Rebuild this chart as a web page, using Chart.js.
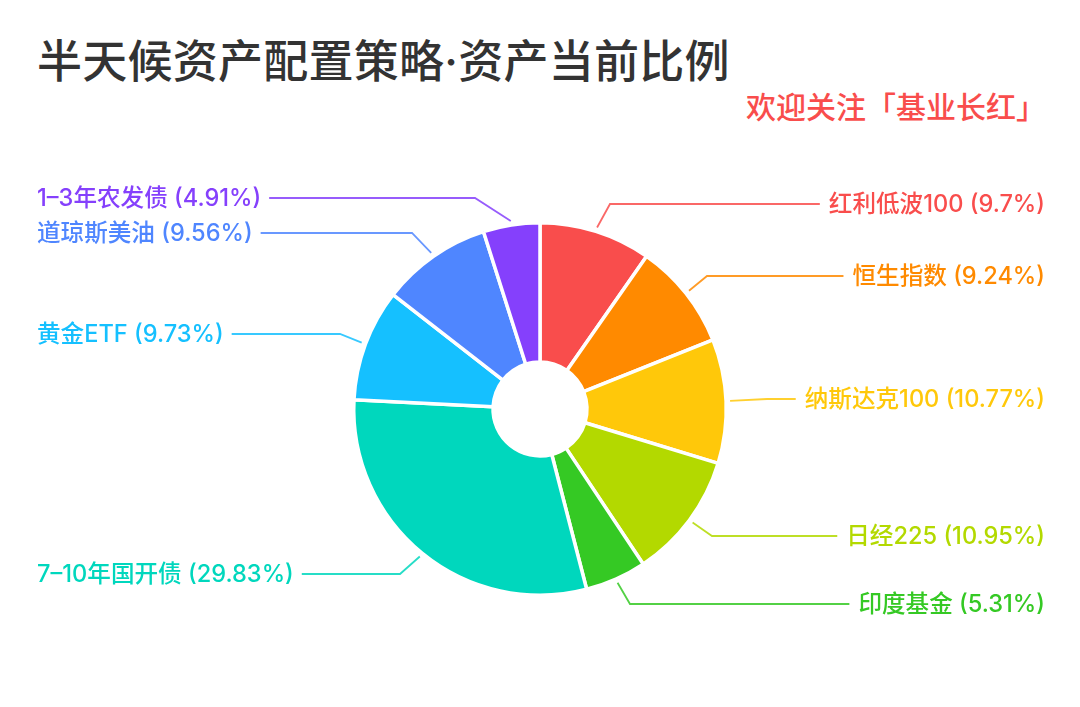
<!DOCTYPE html>
<html lang="zh-CN">
<head>
<meta charset="utf-8">
<title>半天候资产配置策略·资产当前比例</title>
<script src="https://cdn.jsdelivr.net/npm/chart.js@4"></script>
<style>
    html, body { margin: 0; background: #fff; }
    body { position: relative; width: 1080px; height: 707px; overflow: hidden; font-family: Inter, "Noto Sans CJK SC", sans-serif; }
    canvas { position: absolute; left: 0; top: 0; }
    #titulo { position: absolute; left: 37px; top: 32px; font-size: 45px; letter-spacing: 0.25px; line-height: 60px; font-weight: 500; color: #333; white-space: nowrap; }
    #subtitulo { position: absolute; right: 34px; top: 87px; font-size: 30px; line-height: 40px; font-weight: 500; color: #f94d4c; white-space: nowrap; }
</style>
</head>
<body>
<div id="titulo">半天候资产配置策略·资产当前比例</div>
<div id="subtitulo">欢迎关注「基业长红」</div>
<canvas id="graficoActivos" width="1080" height="707"></canvas>
<script>
const categories = ['红利低波100', '恒生指数', '纳斯达克100', '日经225', '印度基金', '7–10年国开债', '黄金ETF', '道琼斯美油', '1–3年农发债'];
const shares = [9.7, 9.24, 10.77, 10.95, 5.31, 29.83, 9.73, 9.56, 4.91];
const colors = ['#f94d4c', '#ff8a00', '#ffc80a', '#b3d900', '#35c924', '#00d7bd', '#15c0ff', '#4f86ff', '#8540fc'];

// leader line layout, one entry per slice
const labelY = [204, 276, 399, 536, 604, 574, 334, 233, 198];
const elbowX = [610, 707, 767, 712, 630, 400, 340, 412, 475];

const leaderLabels = {
    id: 'leaderLabels',
    afterDatasetsDraw(chart) {
        const c = chart.ctx;
        c.save();
        c.font = '500 23.6px Inter, "Noto Sans CJK SC", sans-serif';
        c.textBaseline = 'middle';
        c.lineWidth = 1.8;
        chart.getDatasetMeta(0).data.forEach((arc, i) => {
            const p = arc.getProps(['x', 'y', 'startAngle', 'endAngle', 'outerRadius']);
            const mid = (p.startAngle + p.endAngle) / 2;
            const r = p.outerRadius + 4;
            const sx = p.x + Math.cos(mid) * r;
            const sy = p.y + Math.sin(mid) * r;
            const text = categories[i] + ' (' + shares[i] + '%)';
            const w = c.measureText(text).width;
            const right = sx > p.x;
            const endX = right ? 1045 - w - 9 : 37 + w + 8;

            c.strokeStyle = colors[i];
            c.globalAlpha = 0.85;
            c.beginPath();
            c.moveTo(sx, sy);
            c.lineTo(elbowX[i], labelY[i]);
            c.lineTo(endX, labelY[i]);
            c.stroke();

            c.globalAlpha = 1;
            c.fillStyle = colors[i];
            c.textAlign = right ? 'right' : 'left';
            c.fillText(text, right ? 1045 : 37, labelY[i] + 1);
        });
        c.restore();
    }
};

new Chart(document.getElementById('graficoActivos'), {
    type: 'doughnut',
    data: {
        labels: categories,
        datasets: [{
            data: shares,
            backgroundColor: colors,
            borderColor: '#fff',
            borderWidth: 3.5,
            borderAlign: 'center'
        }]
    },
    options: {
        responsive: false,
        animation: false,
        devicePixelRatio: 1,
        cutout: 47,
        layout: { padding: { left: 352, right: 352, top: 221, bottom: 110 } },
        plugins: { legend: { display: false }, tooltip: { enabled: false } }
    },
    plugins: [leaderLabels]
});
</script>
</body>
</html>
